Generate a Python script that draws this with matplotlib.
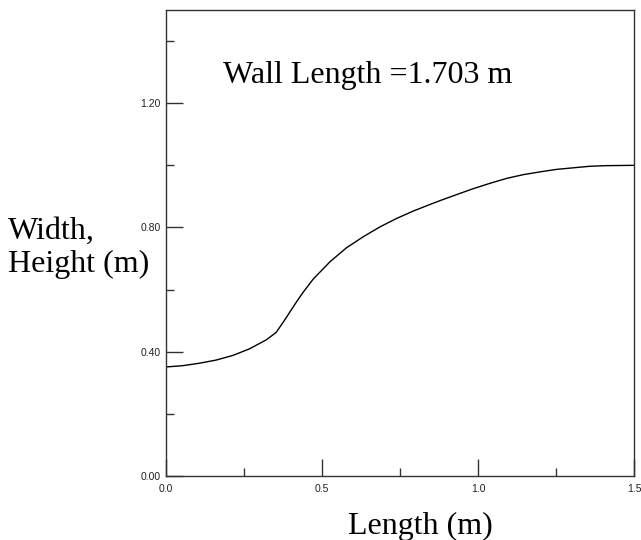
import numpy as np
import matplotlib.pyplot as plt
from matplotlib.ticker import MultipleLocator, FormatStrFormatter

# Wall profile
length = [0.0, 0.053, 0.107, 0.160, 0.214, 0.267, 0.321, 0.353, 0.379, 0.401,
          0.422, 0.440, 0.472, 0.526, 0.579, 0.632, 0.686, 0.739, 0.793,
          0.846, 0.880, 0.932, 0.985, 1.038, 1.092, 1.145, 1.199, 1.252,
          1.305, 1.359, 1.412, 1.5]
width = [0.351, 0.355, 0.363, 0.373, 0.388, 0.409, 0.438, 0.462, 0.500, 0.534,
         0.566, 0.592, 0.634, 0.690, 0.735, 0.770, 0.802, 0.829, 0.853,
         0.874, 0.887, 0.906, 0.925, 0.942, 0.958, 0.970, 0.979, 0.987,
         0.992, 0.997, 0.999, 1.000]

wall_text = "Wall Length =1.703 m"

fig = plt.figure(figsize=(6.41, 5.40), dpi=100)
ax = fig.add_axes([166 / 641, 64 / 540, 468 / 641, 466 / 540])

ax.plot(length, width, color="black", linewidth=1.0)

ax.set_xlim(0, 1.5)
ax.set_ylim(0, 1.5)

ax.xaxis.set_major_locator(MultipleLocator(0.5))
ax.xaxis.set_minor_locator(MultipleLocator(0.25))
ax.yaxis.set_major_locator(MultipleLocator(0.4))
ax.yaxis.set_minor_locator(MultipleLocator(0.2))
ax.xaxis.set_major_formatter(FormatStrFormatter("%.1f"))
ax.yaxis.set_major_formatter(FormatStrFormatter("%.2f"))

ax.tick_params(which="major", direction="in", length=12, width=1,
               color="#333333", labelsize=7.5, labelfontfamily="Liberation Sans",
               labelcolor="#222222")
ax.tick_params(which="minor", direction="in", length=6, width=1, color="#333333")
ax.tick_params(axis="x", which="major", pad=6)
ax.tick_params(axis="y", which="major", pad=4)

for sp in ax.spines.values():
    sp.set_color("#333333")
    sp.set_linewidth(1.0)

serif = "Liberation Serif"
ax.text(0.183, 1.265, wall_text, fontsize=23, family=serif, color="black")
fig.text(420 / 641, 6 / 540, "Length (m)", fontsize=23, family=serif,
         ha="center", va="baseline")
fig.text(8 / 641, (540 - 239) / 540, "Width,", fontsize=23, family=serif,
         ha="left", va="baseline")
fig.text(8 / 641, (540 - 272) / 540, "Height (m)", fontsize=23, family=serif,
         ha="left", va="baseline")

fig.savefig("out.png", dpi=100)
